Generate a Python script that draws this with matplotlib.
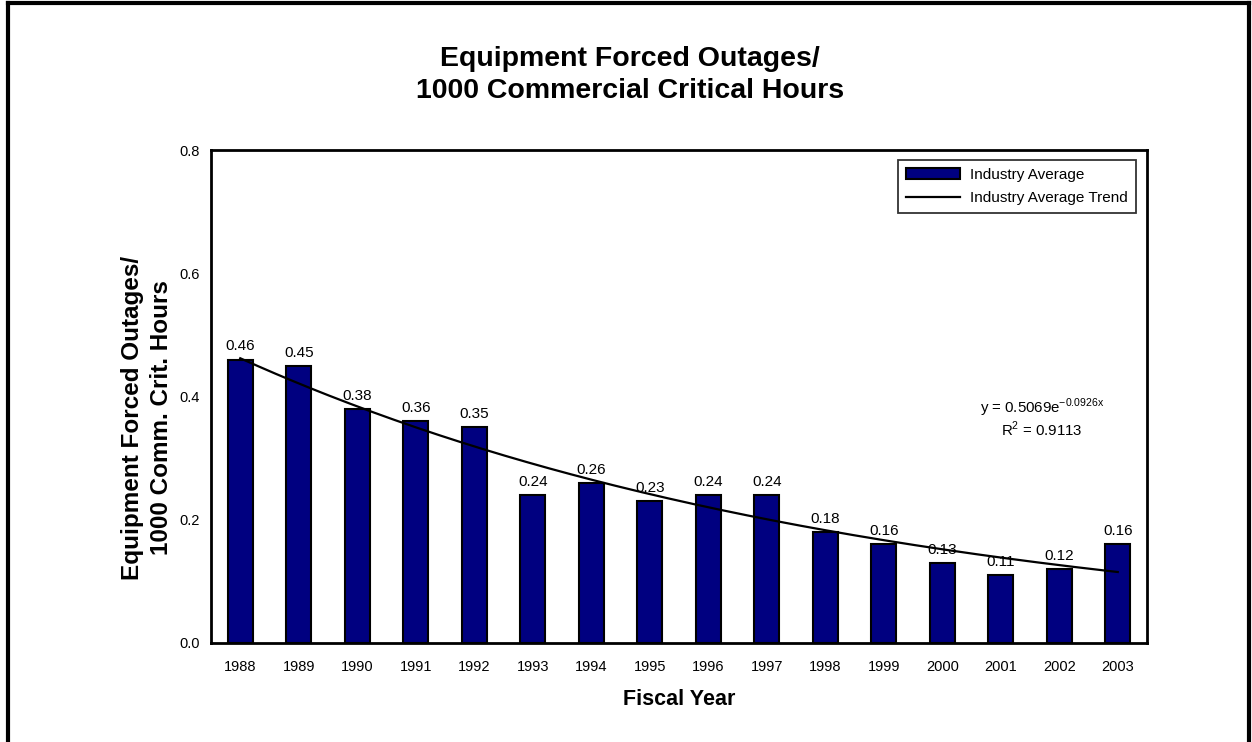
import matplotlib.pyplot as plt
import numpy as np
from matplotlib.lines import Line2D

# ===========数据================
years = ['1988', '1989', '1990', '1991', '1992', '1993', '1994', '1995',
         '1996', '1997', '1998', '1999', '2000', '2001', '2002', '2003']
values = [0.46, 0.45, 0.38, 0.36, 0.35, 0.24, 0.26, 0.23,
          0.24, 0.24, 0.18, 0.16, 0.13, 0.11, 0.12, 0.16]
trend_a, trend_b = 0.5069, -0.0926
yticks = [0.0, 0.2, 0.4, 0.6, 0.8]

plt.rcParams['font.family'] = ['Liberation Sans', 'DejaVu Sans']

W, H = 1252, 742
fig = plt.figure(figsize=(W / 100, H / 100), dpi=100)
ax = fig.add_axes([211 / W, 1 - 643 / H, (1147 - 211) / W, (643 - 150) / H])

x = np.arange(len(years))
bars = ax.bar(x, values, width=0.43, color='#000080', edgecolor='black',
              linewidth=1.5, zorder=2)
for xi, v in zip(x, values):
    ax.text(xi, v + 0.01, f'{v:.2f}', ha='center', va='bottom', fontsize=11, zorder=4)

xt = np.linspace(0, len(years) - 1, 200)
yt = trend_a * np.exp(trend_b * (xt + 1))
line, = ax.plot(xt, yt, color='black', linewidth=1.6, zorder=3)

ax.set_xlim(-0.5, len(years) - 0.5)
ax.set_ylim(0, 0.8)
ax.set_xticks(x)
ax.set_xticklabels(years)
ax.set_yticks(yticks)
ax.set_yticklabels([f'{t:.1f}' for t in yticks])
ax.tick_params(length=0, labelsize=10.5)
ax.tick_params(axis='x', pad=12)
ax.tick_params(axis='y', pad=8)
for s in ax.spines.values():
    s.set_linewidth(2)

ax.set_xlabel('Fiscal Year', fontsize=15.5, fontweight='bold', labelpad=11)

# y轴标题 (手动放置)
fig.text(147 / W, 1 - 418 / H, 'Equipment Forced Outages/\n1000 Comm. Crit. Hours',
         rotation=90, ha='center', va='center', fontsize=17.5, fontweight='bold',
         linespacing=1.32)

leg = ax.legend([bars, line], ['Industry Average', 'Industry Average Trend'],
                loc='upper right', bbox_to_anchor=(0.996, 0.995), fontsize=11,
                frameon=True, fancybox=False, edgecolor='black',
                handlelength=3.5, borderpad=0.5, labelspacing=0.6,
                handletextpad=0.7)
leg.get_frame().set_linewidth(1.3)

ax.text(0.888, 0.477, r'y = 0.5069e$^{\mathregular{-0.0926x}}$', transform=ax.transAxes,
        ha='center', va='center', fontsize=10.8)
ax.text(0.888, 0.434, r'R$^{\mathregular{2}}$ = 0.9113', transform=ax.transAxes,
        ha='center', va='center', fontsize=10.8)

fig.text(0.503, 1 - 75 / H, 'Equipment Forced Outages/\n1000 Commercial Critical Hours',
         ha='center', va='center', fontsize=20.5, fontweight='bold', linespacing=1.25)

# 外框
lw = 3
fig.add_artist(Line2D([7.5 / W, 7.5 / W], [0, 1 - 2.5 / H], color='black', linewidth=lw,
                      transform=fig.transFigure))
fig.add_artist(Line2D([7.5 / W, 1249 / W], [1 - 2.5 / H, 1 - 2.5 / H], color='black',
                      linewidth=lw, transform=fig.transFigure))
fig.add_artist(Line2D([1249 / W, 1249 / W], [0, 1 - 2.5 / H], color='black',
                      linewidth=lw, transform=fig.transFigure))

fig.savefig('out.png', dpi=100)
